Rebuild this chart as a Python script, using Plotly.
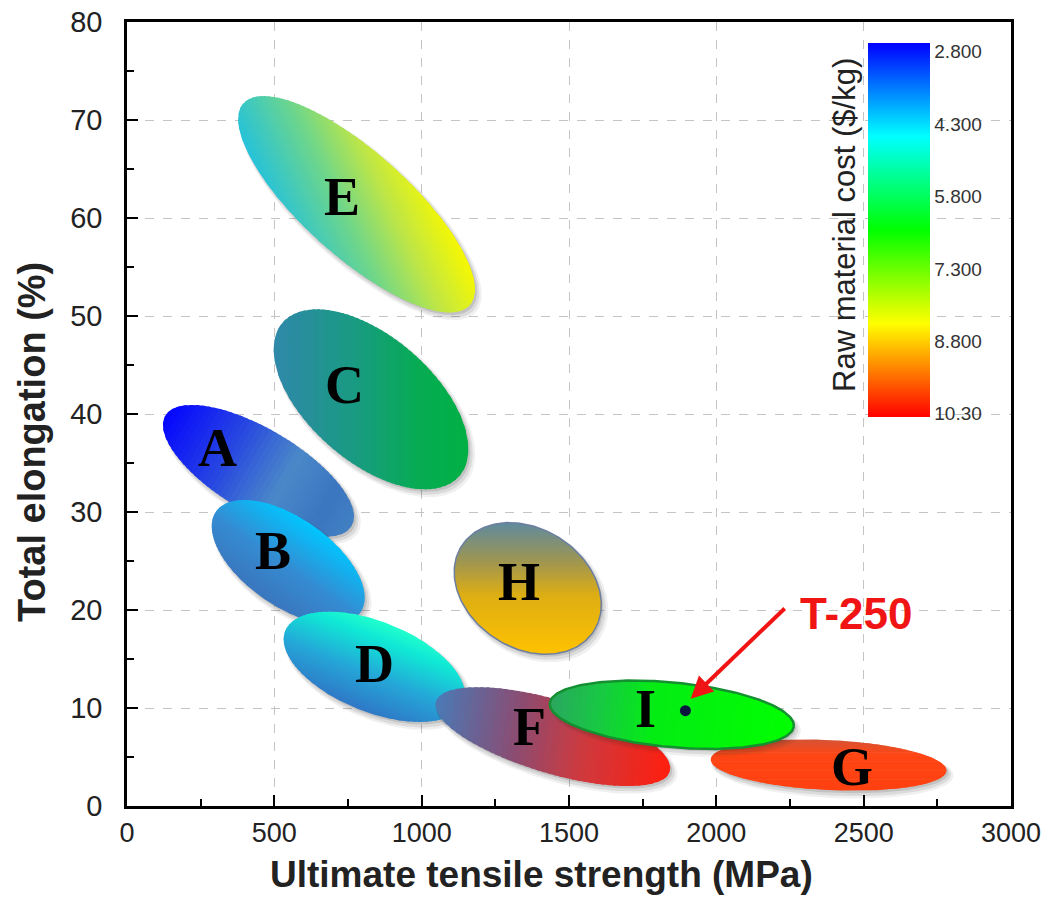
import numpy as np
import plotly.graph_objects as go

# ---------------- data ----------------
materials = ["E", "C", "A", "B", "D", "H", "G", "F", "I"]
center_strength = [779, 828, 446, 547, 839, 1360, 2381, 1445, 1849]      # MPa
center_elong = [61.4, 41.5, 34.2, 24.9, 14.2, 22.2, 4.18, 7.08, 9.31]     # %
tip_strength_offset = [384, 300, 316, 245, 302, 224, 400, 397, 414]       # MPa
tip_elong_offset = [-10.3, -7.83, -5.64, -5.15, -3.67, -4.37, -0.58, -3.56, -1.18]  # %
minor_ratio = [0.345, 0.532, 0.386, 0.50, 0.47, 0.758, 0.212, 0.30, 0.264]
label_strength = [729, 737, 307, 494, 839, 1331, 2462, 1365, 1761]
label_elong = [62.1, 43.0, 36.5, 26.0, 14.5, 22.9, 3.93, 8.09, 9.88]

t250_strength = [1895]
t250_elong = [9.73]
arrow_tail = (2237, 20.3)
arrow_tip = (1913, 10.95)
t250_text_pos = (2477, 19.6)

cost_ticks = [2.8, 4.3, 5.8, 7.3, 8.8, 10.3]
cost_ticktext = ["2.800", "4.300", "5.800", "7.300", "8.800", "10.30"]
cost_range = [2.62, 10.37]

x_ticks = [0, 500, 1000, 1500, 2000, 2500, 3000]
y_ticks = [0, 10, 20, 30, 40, 50, 60, 70, 80]

# ---------------- styles ----------------
grad_angle = [25, 0, -30, 55, 68, -90, -90, -8, -5]
grad_stops = [
    [(0, "#26c2da"), (0.4, "#6fd68a"), (0.7, "#bfe646"), (1, "#f6f800")],
    [(0, "#3088aa"), (0.45, "#179c7e"), (0.75, "#06ac52"), (1, "#00b044")],
    [(0, "#0505ff"), (0.35, "#2848e0"), (0.62, "#4a88c8"), (0.85, "#3a76c0"), (1, "#4280c2")],
    [(0, "#3a76be"), (0.45, "#358cd2"), (1, "#00c6ff")],
    [(0, "#2f78c6"), (0.4, "#25a6d8"), (0.8, "#10e8d6"), (1, "#22ffcc")],
    [(0, "#5f8a9e"), (0.3, "#a09650"), (0.55, "#ddae14"), (1, "#ffc200")],
    [(0, "#d45436"), (0.3, "#ff4614"), (1, "#ff4010")],
    [(0, "#4a7ab6"), (0.35, "#8a4c72"), (0.62, "#cc3a40"), (1, "#ff1e0e")],
    [(0, "#2aa660"), (0.2, "#18c844"), (0.42, "#04ec14"), (1, "#00ff00")],
]
edge_color = [None, None, None, None, None, "#6d7fa0", None, None, "#149030"]
edge_width = [0, 0, 0, 0, 0, 1.5, 0, 0, 2.5]

W, H = 1052, 907
ML, MR, MT, MB = 127, 41, 22, 101
XR = [0, 3000]
YR = [0, 80]
plot_w = W - ML - MR
plot_h = H - MT - MB
ppx = plot_w / (XR[1] - XR[0])   # px per MPa
ppy = plot_h / (YR[1] - YR[0])   # px per %
k = ppy / ppx                    # MPa-equivalent per %


def hex2rgb(h):
    h = h.lstrip("#")
    return [int(h[i:i + 2], 16) for i in (0, 2, 4)]


def interp(stops, t):
    for (p0, c0), (p1, c1) in zip(stops[:-1], stops[1:]):
        if t <= p1:
            f = 0 if p1 == p0 else (t - p0) / (p1 - p0)
            a, b = hex2rgb(c0), hex2rgb(c1)
            return "rgb(%d,%d,%d)" % tuple(round(a[j] + f * (b[j] - a[j])) for j in range(3))
    c = hex2rgb(stops[-1][1])
    return "rgb(%d,%d,%d)" % tuple(c)


def ellipse_local(i, grow_px=0.0, n=220):
    ux, uy = tip_strength_offset[i], tip_elong_offset[i] * k
    L = np.hypot(ux, uy)
    vx, vy = -uy * minor_ratio[i], ux * minor_ratio[i]
    Lv = L * minor_ratio[i]
    su = (L * ppx + grow_px) / (L * ppx)
    sv = (Lv * ppx + grow_px) / (Lv * ppx)
    t = np.linspace(0, 2 * np.pi, n, endpoint=False)
    X = su * ux * np.cos(t) + sv * vx * np.sin(t)
    Y = su * uy * np.cos(t) + sv * vy * np.sin(t)
    return list(zip(X, Y))


def to_data(i, pts, off_px=(0, 0)):
    xs = [center_strength[i] + p[0] + off_px[0] / ppx for p in pts]
    ys = [center_elong[i] + p[1] / k - off_px[1] / ppy for p in pts]
    xs.append(xs[0]); ys.append(ys[0])
    return xs, ys


def clip_half(poly, g, val, ge):
    out = []
    n = len(poly)
    for j in range(n):
        P = poly[j]; Q = poly[(j + 1) % n]
        dp = P[0] * g[0] + P[1] * g[1] - val
        dq = Q[0] * g[0] + Q[1] * g[1] - val
        if not ge:
            dp, dq = -dp, -dq
        if dp >= 0:
            out.append(P)
        if (dp >= 0) != (dq >= 0):
            tt = dp / (dp - dq)
            out.append((P[0] + tt * (Q[0] - P[0]), P[1] + tt * (Q[1] - P[1])))
    return out


fig = go.Figure()
NB = 40
for i, name in enumerate(materials):
    # soft drop shadow
    for off, grow, alpha in [((4, 5), 3, 0.07), ((3, 4), 1.5, 0.10), ((2, 2.5), 0, 0.14)]:
        xs, ys = to_data(i, ellipse_local(i, grow), off)
        fig.add_trace(go.Scatter(x=xs, y=ys, mode="lines", fill="toself",
                                 fillcolor="rgba(40,40,40,%.2f)" % alpha,
                                 line=dict(width=0), hoverinfo="skip", showlegend=False))
    pts = ellipse_local(i)
    ang = np.deg2rad(grad_angle[i])
    g = (np.cos(ang), np.sin(ang))
    proj = [p[0] * g[0] + p[1] * g[1] for p in pts]
    pmin, pmax = min(proj), max(proj)
    step = (pmax - pmin) / NB
    for j in range(NB):
        lo = pmin + j * step - (0.001 * step if j == 0 else 0)
        hi = lo + 1.5 * step if j < NB - 1 else pmax + step
        poly = clip_half(pts, g, lo, True)
        poly = clip_half(poly, g, hi, False)
        if len(poly) < 3:
            continue
        xs, ys = to_data(i, poly)
        fig.add_trace(go.Scatter(x=xs, y=ys, mode="lines", fill="toself",
                                 fillcolor=interp(grad_stops[i], (j + 0.5) / NB),
                                 line=dict(width=0), hoverinfo="skip", showlegend=False))
    if edge_width[i] > 0:
        xs, ys = to_data(i, pts)
        fig.add_trace(go.Scatter(x=xs, y=ys, mode="lines",
                                 line=dict(width=edge_width[i], color=edge_color[i]),
                                 hoverinfo="skip", showlegend=False))

# material letters
for i, name in enumerate(materials):
    fig.add_annotation(x=label_strength[i], y=label_elong[i], text="<b>%s</b>" % name,
                       showarrow=False, xanchor="center", yanchor="middle",
                       font=dict(family="Times New Roman, Liberation Serif, serif", size=54, color="black"))

# T-250 point
fig.add_trace(go.Scatter(x=t250_strength, y=t250_elong, mode="markers",
                         marker=dict(size=11, color="#0b1640"), hoverinfo="skip", showlegend=False))
fig.add_annotation(x=arrow_tip[0], y=arrow_tip[1], ax=arrow_tail[0], ay=arrow_tail[1],
                   axref="x", ayref="y", xref="x", yref="y", text="", showarrow=True,
                   arrowhead=2, arrowsize=1.1, arrowwidth=4, arrowcolor="#f01414")
fig.add_annotation(x=t250_text_pos[0], y=t250_text_pos[1], text="<b>T-250</b>", showarrow=False,
                   xanchor="center", yanchor="middle",
                   font=dict(family="Liberation Sans, Arial, sans-serif", size=44, color="#f01414"))

# colorbar (cost axis drawn top = low cost, bottom = high cost)
fig.add_trace(go.Scatter(
    x=[-500, -500], y=[-10, -10], mode="markers",
    marker=dict(size=1, opacity=0, color=[-cost_range[1], -cost_range[0]],
                cmin=-cost_range[1], cmax=-cost_range[0],
                colorscale=[[0, "#ff0000"], [0.25, "#ffff00"], [0.5, "#00ff00"],
                            [0.75, "#00ffff"], [1, "#0000ff"]],
                showscale=True,
                colorbar=dict(x=(868 - ML) / plot_w, xanchor="left",
                              y=(MT + plot_h - 230) / plot_h, yanchor="middle",
                              len=374 / plot_h, lenmode="fraction", thickness=62,
                              xpad=0, ypad=0, outlinewidth=0, ticks="",
                              tickvals=[-v for v in cost_ticks], ticktext=cost_ticktext,
                              tickfont=dict(family="Liberation Sans, Arial", size=19, color="#333333"))),
    hoverinfo="skip", showlegend=False))
fig.add_annotation(xref="paper", yref="paper", x=(845 - ML) / plot_w, y=(MT + plot_h - 225) / plot_h,
                   xanchor="center", yanchor="middle",
                   text="Raw material cost ($/kg)", textangle=-90, showarrow=False,
                   font=dict(family="Liberation Sans, Arial", size=31, color="#222222"))

# axis titles
fig.add_annotation(xref="paper", yref="paper", x=(541 - ML) / plot_w, y=-(874 - MT - plot_h) / plot_h,
                   xanchor="center", yanchor="middle",
                   text="<b>Ultimate tensile strength (MPa)</b>", showarrow=False,
                   font=dict(family="Liberation Sans, Arial", size=37, color="#222222"))
fig.add_annotation(xref="paper", yref="paper", x=(32 - ML) / plot_w, y=(MT + plot_h - 442) / plot_h,
                   xanchor="center", yanchor="middle",
                   text="<b>Total elongation (%)</b>", showarrow=False, textangle=-90,
                   font=dict(family="Liberation Sans, Arial", size=38, color="#222222"))

axis_common = dict(showline=True, linewidth=2.5, linecolor="black", mirror=True,
                   ticks="inside", ticklen=11, tickwidth=2, tickcolor="black",
                   showgrid=True, gridcolor="#c4c4c4", griddash="dash", gridwidth=1,
                   zeroline=False)
fig.update_xaxes(range=XR, tickvals=x_ticks, ticktext=[str(v) for v in x_ticks],
                 tickfont=dict(family="Liberation Sans, Arial", size=27, color="#222222"),
                 ticklabelstandoff=1,
                 minor=dict(ticks="inside", ticklen=7, tickwidth=2, tickcolor="black",
                            dtick=250, tick0=0, showgrid=False), **axis_common)
fig.update_yaxes(range=YR, tickvals=y_ticks, ticktext=[str(v) for v in y_ticks],
                 tickfont=dict(family="Liberation Sans, Arial", size=29, color="#222222"),
                 ticklabelstandoff=16,
                 minor=dict(ticks="inside", ticklen=7, tickwidth=2, tickcolor="black",
                            dtick=5, tick0=0, showgrid=False), **axis_common)
fig.update_layout(width=W, height=H, margin=dict(l=ML, r=MR, t=MT, b=MB, autoexpand=False),
                  plot_bgcolor="white", paper_bgcolor="white", showlegend=False)
fig.write_html("out.html")
